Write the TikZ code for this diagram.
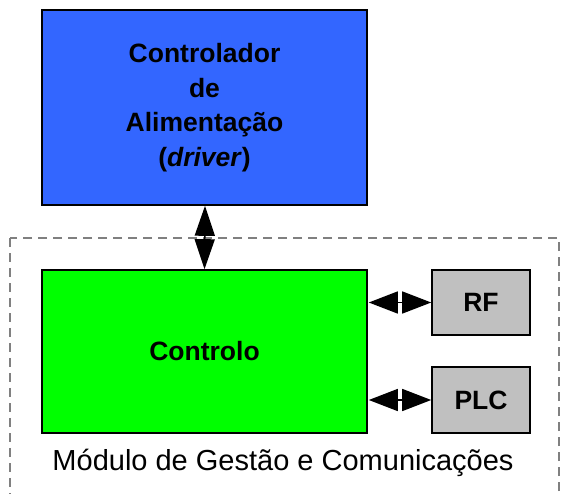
\documentclass[tikz,border=0pt]{standalone}
\usepackage{fontspec}
\setmainfont{Liberation Sans}
\usetikzlibrary{arrows.meta}
\definecolor{blueC}{RGB}{51,102,255}
\definecolor{greenC}{RGB}{0,255,0}
\definecolor{grayC}{RGB}{192,192,192}
\definecolor{dashC}{RGB}{128,128,128}
\tikzset{
  blockbox/.style={draw=black, line width=1.6pt, inner sep=0pt, font=\bfseries\fontsize{26.5}{34.5}\selectfont, align=center},
  vlink/.style={line width=1.5pt, {Triangle[length=30pt, width=20pt]}-{Triangle[length=30pt, width=20pt]}},
  hlink/.style={line width=1.5pt, {Triangle[length=29pt, width=22pt]}-{Triangle[length=29pt, width=22pt]}},
  groupbox/.style={draw=dashC, line width=1.3pt, dash pattern=on 9pt off 6pt}
}
\begin{document}
\begin{tikzpicture}
\useasboundingbox (0pt,0pt) rectangle (561pt,-494pt);
\fill[white] (0pt,0pt) rectangle (561pt,-494pt);
\begin{scope}
\clip (0pt,0pt) rectangle (561pt,-494pt);
\draw[groupbox] (10pt,-238pt) rectangle (559pt,-510pt);
\end{scope}
\node[blockbox, fill=blueC, minimum width=325pt, minimum height=195pt] (drv) at (204.5pt,-107.5pt) {Controlador\\de\\Alimentação\\(\textit{driver})};
\node[blockbox, fill=greenC, minimum width=325pt, minimum height=163pt] (ctl) at (204.5pt,-351.5pt) {Controlo};
\node[blockbox, fill=grayC, minimum width=98pt, minimum height=65pt] (rf) at (481pt,-302.5pt) {RF};
\node[blockbox, fill=grayC, minimum width=98pt, minimum height=66pt] (plc) at (481pt,-400pt) {PLC};
\node[font=\fontsize{29}{32}\selectfont, anchor=base] (lbl) at (283pt,-470pt) {Módulo de Gestão e Comunicações};
\draw[vlink] (drv.south) ++(0.5pt,0) -- (ctl.north);
\draw[hlink] ([xshift=1pt]ctl.east |- rf.west) -- (rf.west);
\draw[hlink] ([xshift=1pt]ctl.east |- plc.west) -- (plc.west);
\end{tikzpicture}
\end{document}
